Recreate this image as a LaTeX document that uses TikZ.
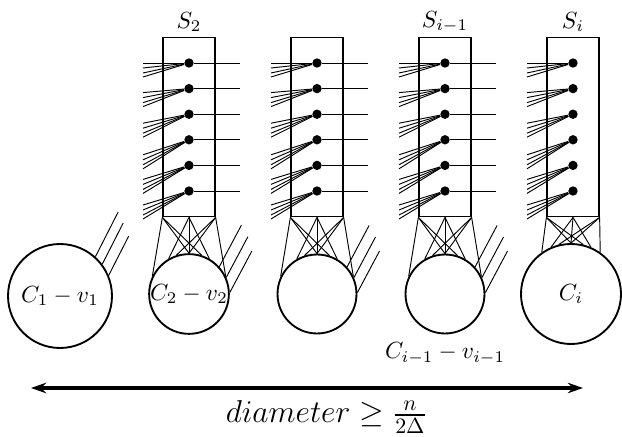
\documentclass[tikz,border=0pt]{standalone}
\usepackage{amsmath,amssymb}
\usepackage{tikz}
\usetikzlibrary{arrows.meta, positioning}

\begin{document}
\begin{tikzpicture}[
    x=0.428pt, y=0.428pt,
    setbox/.style={draw, thick, minimum width=22pt, minimum height=76.6pt, inner sep=0pt},
    vtx/.style={circle, fill, inner sep=0pt, minimum size=4pt},
    comp/.style={circle, draw, thick, inner sep=0pt},
    edge/.style={thin},
    span/.style={<->, >={Stealth[length=6.5pt, width=4.5pt]}, line width=1.3pt}
]
\useasboundingbox (0,0) rectangle (622,436);

% Separator sets with their vertices
\foreach \k/\x in {1/189, 2/317, 3/445, 4/573} {
    \node[setbox] (s\k) at (\x,309) {};
    \foreach \j in {0,...,5}
        \node[vtx] (v\k-\j) at (\x,{373-25.6*\j}) {};
}

\node (l1) at (189,414) {$S_2$};
\node (l3) at (445,414) {$S_{i-1}$};
\node (l4) at (573,414) {$S_i$};

% Components
\node[comp, minimum size=44.5pt] (c1) at (60,140) {$C_1-v_1$};
\node[comp, minimum size=33.8pt] (c2) at (189,142) {$C_2-v_2$};
\node[comp, minimum size=33.8pt] (c3) at (317,142) {};
\node[comp, minimum size=33.8pt] (c4) at (445,142) {};
\node[comp, minimum size=42.8pt] (c5) at (571,142) {$C_i$};
\node[below=0pt of c4] (l5) {$C_{i-1}-v_{i-1}$};

% Edges entering each vertex from the left
\foreach \k in {1,...,4}
    \foreach \j/\b in {0/0, 1/4, 2/9, 3/15, 4/14, 5/14}
        \foreach \o in {0,5,10,14}
            \draw[edge] (v\k-\j) -- ++(-46,{-\b-\o});

% Edges leaving to the right
\foreach \k in {1,...,3}
    \foreach \j in {0,...,5}
        \draw[edge] (v\k-\j) -- ++(51,0);

% Set to component below
\foreach \s/\c/\fl/\fr/\ml/\mr/\lx/\rx in {s1/c2/154/26/120/60/72/108,
        s2/c3/154/26/120/60/72/108, s3/c4/154/26/120/60/72/108,
        s4/c5/125/55/113/67/76/104} {
    \draw[edge] (\s.south west) -- (\c.\fl);
    \draw[edge] (\s.south west) -- (\c.90);
    \draw[edge] (\s.south west) -- (\c.\lx);
    \draw[edge] (\s.south) -- (\c.\ml);
    \draw[edge] (\s.south) -- (\c.90);
    \draw[edge] (\s.south) -- (\c.\mr);
    \draw[edge] (\s.south east) -- (\c.\fr);
    \draw[edge] (\s.south east) -- (\c.90);
    \draw[edge] (\s.south east) -- (\c.\rx);
}

% Edges out of the components
\foreach \a/\l in {48/50, 37/46, 23/44}
    \draw[edge] (c1.\a) -- ++(63:\l);
\foreach \c in {c2,c3,c4}
    \foreach \a/\l in {42/47, 24/46, 2/47}
        \draw[edge] (\c.\a) -- ++(62:\l);

% Diameter
\coordinate (a) at (31,48);
\coordinate (b) at (583,48);
\draw[span] (a) -- (b);
\node[anchor=base west, font=\Large, scale=0.94, transform shape] (dia) at (218,13) {$diameter \geq \frac{n}{2\Delta}$};
\end{tikzpicture}
\end{document}
